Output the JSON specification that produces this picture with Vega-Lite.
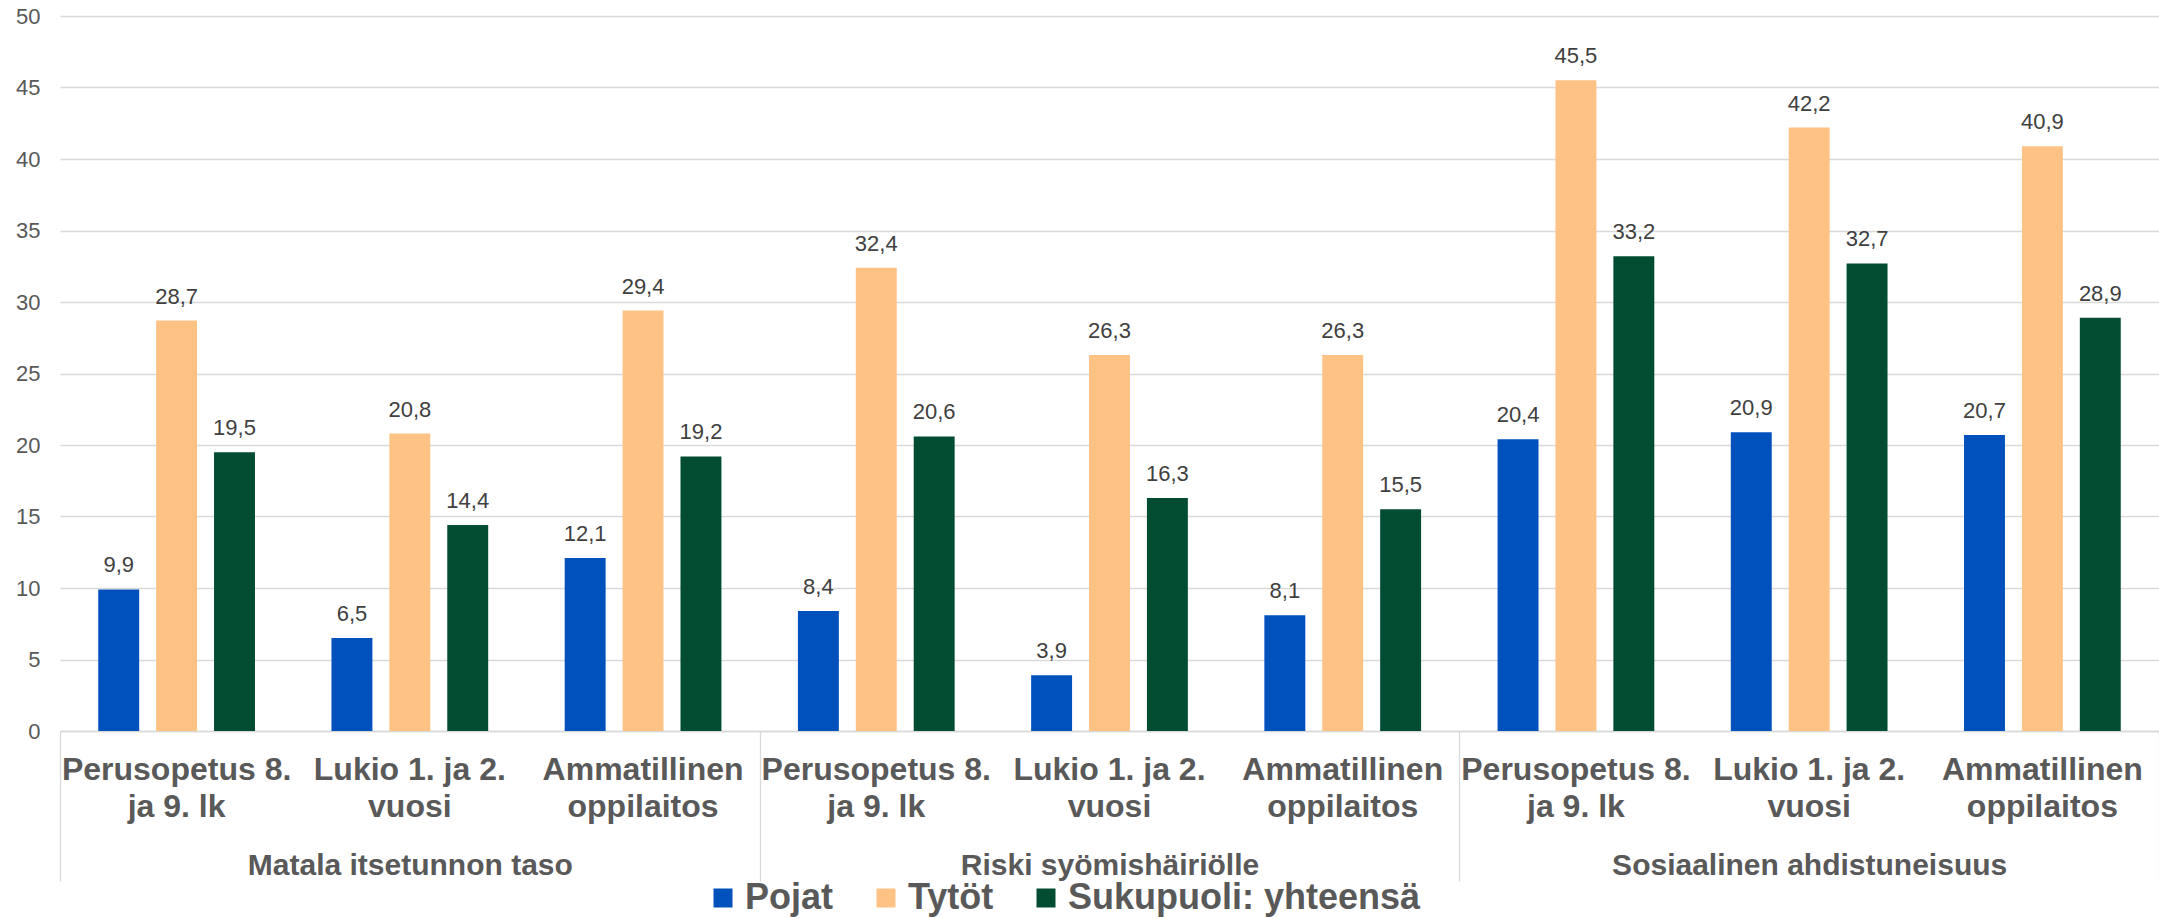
{
  "$schema": "https://vega.github.io/schema/vega-lite/v6.json",
  "width": 2099,
  "height": 715,
  "autosize": {"type": "none"},
  "padding": {"left": 60, "top": 16, "right": 0, "bottom": 187},
  "background": "white",
  "config": {
    "view": {"stroke": null},
    "font": "Liberation Sans",
    "locale": {"number": {"decimal": ",", "thousands": "\u00a0", "grouping": [3], "currency": ["", "\u00a0€"]}}
  },
  "data": {"values": [
    {"ryhma": "Matala itsetunnon taso", "kohde": "Matala itsetunnon taso: Perusopetus 8. ja 9. lk", "sukupuoli": "Pojat", "osuus": 9.9},
    {"ryhma": "Matala itsetunnon taso", "kohde": "Matala itsetunnon taso: Perusopetus 8. ja 9. lk", "sukupuoli": "Tytöt", "osuus": 28.7},
    {"ryhma": "Matala itsetunnon taso", "kohde": "Matala itsetunnon taso: Perusopetus 8. ja 9. lk", "sukupuoli": "Sukupuoli: yhteensä", "osuus": 19.5},
    {"ryhma": "Matala itsetunnon taso", "kohde": "Matala itsetunnon taso: Lukio 1. ja 2. vuosi", "sukupuoli": "Pojat", "osuus": 6.5},
    {"ryhma": "Matala itsetunnon taso", "kohde": "Matala itsetunnon taso: Lukio 1. ja 2. vuosi", "sukupuoli": "Tytöt", "osuus": 20.8},
    {"ryhma": "Matala itsetunnon taso", "kohde": "Matala itsetunnon taso: Lukio 1. ja 2. vuosi", "sukupuoli": "Sukupuoli: yhteensä", "osuus": 14.4},
    {"ryhma": "Matala itsetunnon taso", "kohde": "Matala itsetunnon taso: Ammatillinen oppilaitos", "sukupuoli": "Pojat", "osuus": 12.1},
    {"ryhma": "Matala itsetunnon taso", "kohde": "Matala itsetunnon taso: Ammatillinen oppilaitos", "sukupuoli": "Tytöt", "osuus": 29.4},
    {"ryhma": "Matala itsetunnon taso", "kohde": "Matala itsetunnon taso: Ammatillinen oppilaitos", "sukupuoli": "Sukupuoli: yhteensä", "osuus": 19.2},
    {"ryhma": "Riski syömishäiriölle", "kohde": "Riski syömishäiriölle: Perusopetus 8. ja 9. lk", "sukupuoli": "Pojat", "osuus": 8.4},
    {"ryhma": "Riski syömishäiriölle", "kohde": "Riski syömishäiriölle: Perusopetus 8. ja 9. lk", "sukupuoli": "Tytöt", "osuus": 32.4},
    {"ryhma": "Riski syömishäiriölle", "kohde": "Riski syömishäiriölle: Perusopetus 8. ja 9. lk", "sukupuoli": "Sukupuoli: yhteensä", "osuus": 20.6},
    {"ryhma": "Riski syömishäiriölle", "kohde": "Riski syömishäiriölle: Lukio 1. ja 2. vuosi", "sukupuoli": "Pojat", "osuus": 3.9},
    {"ryhma": "Riski syömishäiriölle", "kohde": "Riski syömishäiriölle: Lukio 1. ja 2. vuosi", "sukupuoli": "Tytöt", "osuus": 26.3},
    {"ryhma": "Riski syömishäiriölle", "kohde": "Riski syömishäiriölle: Lukio 1. ja 2. vuosi", "sukupuoli": "Sukupuoli: yhteensä", "osuus": 16.3},
    {"ryhma": "Riski syömishäiriölle", "kohde": "Riski syömishäiriölle: Ammatillinen oppilaitos", "sukupuoli": "Pojat", "osuus": 8.1},
    {"ryhma": "Riski syömishäiriölle", "kohde": "Riski syömishäiriölle: Ammatillinen oppilaitos", "sukupuoli": "Tytöt", "osuus": 26.3},
    {"ryhma": "Riski syömishäiriölle", "kohde": "Riski syömishäiriölle: Ammatillinen oppilaitos", "sukupuoli": "Sukupuoli: yhteensä", "osuus": 15.5},
    {"ryhma": "Sosiaalinen ahdistuneisuus", "kohde": "Sosiaalinen ahdistuneisuus: Perusopetus 8. ja 9. lk", "sukupuoli": "Pojat", "osuus": 20.4},
    {"ryhma": "Sosiaalinen ahdistuneisuus", "kohde": "Sosiaalinen ahdistuneisuus: Perusopetus 8. ja 9. lk", "sukupuoli": "Tytöt", "osuus": 45.5},
    {"ryhma": "Sosiaalinen ahdistuneisuus", "kohde": "Sosiaalinen ahdistuneisuus: Perusopetus 8. ja 9. lk", "sukupuoli": "Sukupuoli: yhteensä", "osuus": 33.2},
    {"ryhma": "Sosiaalinen ahdistuneisuus", "kohde": "Sosiaalinen ahdistuneisuus: Lukio 1. ja 2. vuosi", "sukupuoli": "Pojat", "osuus": 20.9},
    {"ryhma": "Sosiaalinen ahdistuneisuus", "kohde": "Sosiaalinen ahdistuneisuus: Lukio 1. ja 2. vuosi", "sukupuoli": "Tytöt", "osuus": 42.2},
    {"ryhma": "Sosiaalinen ahdistuneisuus", "kohde": "Sosiaalinen ahdistuneisuus: Lukio 1. ja 2. vuosi", "sukupuoli": "Sukupuoli: yhteensä", "osuus": 32.7},
    {"ryhma": "Sosiaalinen ahdistuneisuus", "kohde": "Sosiaalinen ahdistuneisuus: Ammatillinen oppilaitos", "sukupuoli": "Pojat", "osuus": 20.7},
    {"ryhma": "Sosiaalinen ahdistuneisuus", "kohde": "Sosiaalinen ahdistuneisuus: Ammatillinen oppilaitos", "sukupuoli": "Tytöt", "osuus": 40.9},
    {"ryhma": "Sosiaalinen ahdistuneisuus", "kohde": "Sosiaalinen ahdistuneisuus: Ammatillinen oppilaitos", "sukupuoli": "Sukupuoli: yhteensä", "osuus": 28.9}
  ]},
  "layer": [
    {
      "layer": [
        {
          "mark": {"type": "bar"},
          "encoding": {
            "x": {
              "field": "kohde", "type": "nominal", "sort": null,
              "scale": {"paddingInner": 0.328, "paddingOuter": 0.164},
              "axis": {
                "title": null, "orient": "bottom", "ticks": false,
                "domain": true, "domainColor": "#d9d9d9", "domainWidth": 1.3,
                "labelAngle": 0, "labelFontSize": 32, "labelFontWeight": "bold",
                "labelColor": "#595959", "labelFont": "Liberation Sans",
                "labelBaseline": "top", "labelPadding": 23, "labelLineHeight": 37,
                "labelLimit": 0, "labelOverlap": false,
                "labelExpr": "indexof(datum.value,'Perusopetus')>=0 ? ['Perusopetus 8.','ja 9. lk'] : (indexof(datum.value,'Lukio')>=0 ? ['Lukio 1. ja 2.','vuosi'] : ['Ammatillinen','oppilaitos'])"
              }
            },
            "xOffset": {
              "field": "sukupuoli", "type": "nominal", "sort": null,
              "scale": {"paddingInner": 0.293, "paddingOuter": 0}
            },
            "y": {
              "field": "osuus", "type": "quantitative",
              "scale": {"domain": [0, 50], "nice": false},
              "axis": {
                "title": null, "values": [0, 5, 10, 15, 20, 25, 30, 35, 40, 45, 50],
                "domain": false, "ticks": false,
                "grid": true, "gridColor": "#d9d9d9", "gridWidth": 1.3,
                "labelFontSize": 22, "labelColor": "#595959", "labelPadding": 20,
                "labelFont": "Liberation Sans"
              }
            },
            "color": {
              "field": "sukupuoli", "type": "nominal",
              "scale": {
                "domain": ["Pojat", "Tytöt", "Sukupuoli: yhteensä"],
                "range": ["#0151bd", "#ffc285", "#024c31"]
              },
              "legend": {
                "title": null, "orient": "none", "direction": "horizontal",
                "legendX": 645, "legendY": 864, "padding": 0,
                "symbolType": "square", "symbolSize": 361, "symbolStrokeWidth": 0,
                "labelFontSize": 36, "labelFontWeight": "bold", "labelColor": "#595959",
                "labelFont": "Liberation Sans", "labelOffset": 4, "columnPadding": 34,
                "labelLimit": 0
              }
            }
          }
        },
        {
          "mark": {"type": "text", "fontSize": 22, "color": "#404040", "baseline": "alphabetic", "dy": -17, "font": "Liberation Sans"},
          "encoding": {
            "x": {"field": "kohde", "type": "nominal", "sort": null},
            "xOffset": {"field": "sukupuoli", "type": "nominal", "sort": null},
            "y": {"field": "osuus", "type": "quantitative"},
            "text": {"field": "osuus", "type": "quantitative", "format": ".1f"}
          }
        }
      ]
    },
    {
      "mark": {"type": "rule", "opacity": 0},
      "encoding": {
        "x": {
          "field": "ryhma", "type": "nominal", "sort": null,
          "scale": {"paddingInner": 0, "paddingOuter": 0},
          "axis": {
            "title": null, "orient": "bottom", "domain": false, "grid": false,
            "ticks": true, "tickBand": "extent", "tickSize": 150,
            "tickColor": "#d9d9d9", "tickWidth": 1.3,
            "labelAngle": 0, "labelFontSize": 30, "labelFontWeight": "bold",
            "labelColor": "#595959", "labelFont": "Liberation Sans",
            "labelBaseline": "alphabetic", "labelPadding": -7, "labelLimit": 0
          }
        }
      }
    }
  ],
  "resolve": {"scale": {"x": "independent"}, "axis": {"x": "independent"}}
}
